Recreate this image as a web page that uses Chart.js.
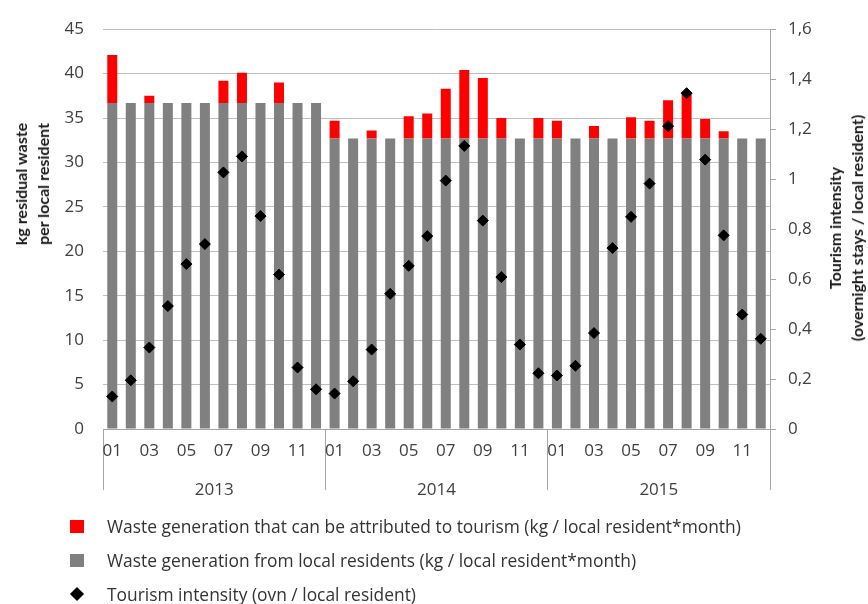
<!DOCTYPE html>
<html>
<head>
<meta charset="utf-8">
<title>Residual waste and tourism intensity</title>
<script src="https://cdn.jsdelivr.net/npm/chart.js@4.4.1/dist/chart.umd.min.js"></script>
<style>
  body { margin: 0; background: #fff; }
  #wrap { position: relative; width: 868px; height: 604px; font-family: "Open Sans", sans-serif; }
  #wrap canvas { position: absolute; left: 0; top: 0; }
  .axis-title {
    position: absolute;
    white-space: nowrap;
    text-align: center;
    font: bold 16px Lato, sans-serif;
    line-height: 22px;
    color: #1a1a1a;
    transform: translate(-50%, -50%) rotate(-90deg);
  }
  #legend { position: absolute; left: 70px; top: 509px; }
  .item { display: flex; align-items: center; height: 34px; font-size: 17.4px; color: #333; }
  .swatch { width: 14px; height: 13px; margin-right: 23px; position: relative; flex: none; }
  .swatch.diamond::after {
    content: ""; position: absolute; left: 2px; top: 1px; width: 10px; height: 10px;
    background: #000; transform: rotate(45deg);
  }
</style>
</head>
<body>
<div id="wrap">
  <canvas id="chart"></canvas>
  <div class="axis-title" style="left: 32px; top: 184px;">kg residual waste<br>per local resident</div>
  <div class="axis-title" style="left: 846px; top: 228px;">Tourism intensity<br>(overnight stays / local resident)</div>
  <div id="legend"></div>
</div>
<script>
const years = ["2013", "2014", "2015"];
const months = ["01", "02", "03", "04", "05", "06", "07", "08", "09", "10", "11", "12"];

// kg / local resident * month
const residentWaste = [
  36.7, 36.7, 36.7, 36.7, 36.7, 36.7, 36.7, 36.7, 36.7, 36.7, 36.7, 36.7,
  32.7, 32.7, 32.7, 32.7, 32.7, 32.7, 32.7, 32.7, 32.7, 32.7, 32.7, 32.7,
  32.7, 32.7, 32.7, 32.7, 32.7, 32.7, 32.7, 32.7, 32.7, 32.7, 32.7, 32.7
];
const tourismWaste = [
  5.4, 0, 0.8, 0, 0, 0, 2.5, 3.4, 0, 2.3, 0, 0,
  2.0, 0, 0.9, 0, 2.5, 2.8, 5.6, 7.7, 6.8, 2.3, 0, 2.3,
  2.0, 0, 1.4, 0, 2.4, 2.0, 4.3, 5.2, 2.2, 0.8, 0, 0
];
// overnight stays / local resident
const tourismIntensity = [
  0.13, 0.195, 0.326, 0.492, 0.66, 0.74, 1.027, 1.091, 0.852, 0.618, 0.246, 0.159,
  0.142, 0.191, 0.318, 0.541, 0.653, 0.772, 0.994, 1.133, 0.834, 0.608, 0.338, 0.223,
  0.214, 0.253, 0.384, 0.724, 0.849, 0.982, 1.212, 1.344, 1.078, 0.775, 0.458, 0.361
];

const wasteTicks = [0, 5, 10, 15, 20, 25, 30, 35, 40, 45];
const intensityTicks = [0, 0.2, 0.4, 0.6, 0.8, 1, 1.2, 1.4, 1.6];

const seriesNames = [
  "Waste generation that can be attributed to tourism (kg / local resident*month)",
  "Waste generation from local residents (kg / local resident*month)",
  "Tourism intensity (ovn / local resident)"
];
const seriesColors = ["#ff0000", "#808080", "#000000"];

const categories = [];
years.forEach((y) => months.forEach((m) => categories.push(y + "-" + m)));

const tickFont = { family: "'Open Sans', sans-serif", size: 17 };
const tickColor = "#404040";
const lineColor = "#a6a6a6";

// only the year boundaries get a tick mark under the month axis
const yearEdge = (ctx) =>
  ctx.index === undefined || ctx.index % months.length === 0 ? lineColor : "rgba(0,0,0,0)";

const chart = new Chart(document.getElementById("chart"), {
  data: {
    labels: categories,
    datasets: [
      {
        type: "line",
        label: seriesNames[2],
        data: tourismIntensity,
        yAxisID: "y1",
        xAxisID: "x",
        showLine: false,
        pointStyle: "rectRot",
        pointRadius: 5.5,
        backgroundColor: seriesColors[2],
        borderColor: seriesColors[2],
        order: 0
      },
      {
        type: "bar",
        label: seriesNames[1],
        data: residentWaste,
        yAxisID: "y",
        xAxisID: "x",
        stack: "waste",
        backgroundColor: seriesColors[1],
        barPercentage: 0.54,
        categoryPercentage: 1,
        order: 1
      },
      {
        type: "bar",
        label: seriesNames[0],
        data: tourismWaste,
        yAxisID: "y",
        xAxisID: "x",
        stack: "waste",
        backgroundColor: seriesColors[0],
        barPercentage: 0.54,
        categoryPercentage: 1,
        order: 1
      }
    ]
  },
  options: {
    responsive: true,
    maintainAspectRatio: false,
    animation: false,
    layout: { padding: { top: 14, bottom: 107, left: 0, right: 0 } },
    scales: {
      x: {
        type: "category",
        stacked: true,
        offset: true,
        grid: { offset: true, drawOnChartArea: false, tickLength: 61, color: yearEdge, tickColor: yearEdge },
        border: { display: true, color: lineColor },
        ticks: {
          autoSkip: false,
          maxRotation: 0,
          padding: -49,
          color: tickColor,
          font: tickFont,
          callback: function (value, index) {
            return index % 2 === 0 ? this.getLabelForValue(value).slice(5) : "";
          }
        },
        afterFit: (scale) => { scale.height = 28; }
      },
      x2: {
        type: "category",
        labels: years,
        position: "bottom",
        offset: true,
        grid: { display: false },
        border: { display: false },
        ticks: { padding: 15, color: tickColor, font: tickFont, maxRotation: 0 },
        afterFit: (scale) => { scale.height = 40; }
      },
      y: {
        stacked: true,
        position: "left",
        min: 0,
        max: 45,
        afterBuildTicks: (scale) => { scale.ticks = wasteTicks.map((v) => ({ value: v })); },
        grid: { color: "#bfbfbf", drawTicks: false },
        border: { display: false },
        ticks: { padding: 19, color: tickColor, font: tickFont },
        afterFit: (scale) => { scale.width = 103; }
      },
      y1: {
        position: "right",
        min: 0,
        max: 1.6,
        afterBuildTicks: (scale) => { scale.ticks = intensityTicks.map((v) => ({ value: v })); },
        grid: { drawOnChartArea: false, tickLength: 6, color: lineColor },
        border: { display: true, color: lineColor },
        ticks: {
          padding: 12,
          color: tickColor,
          font: tickFont,
          callback: (v) => String(Math.round(v * 10) / 10).replace(".", ",")
        },
        afterFit: (scale) => { scale.width = 98; }
      }
    },
    plugins: {
      legend: { display: false },
      tooltip: { enabled: false }
    }
  }
});

// legend below the chart, one entry per line
const legend = document.getElementById("legend");
[0, 1, 2].forEach((i) => {
  const row = document.createElement("div");
  row.className = "item";
  const sw = document.createElement("span");
  sw.className = i === 2 ? "swatch diamond" : "swatch";
  if (i !== 2) sw.style.background = seriesColors[i];
  row.appendChild(sw);
  row.appendChild(document.createTextNode(seriesNames[i]));
  legend.appendChild(row);
});
</script>
</body>
</html>
